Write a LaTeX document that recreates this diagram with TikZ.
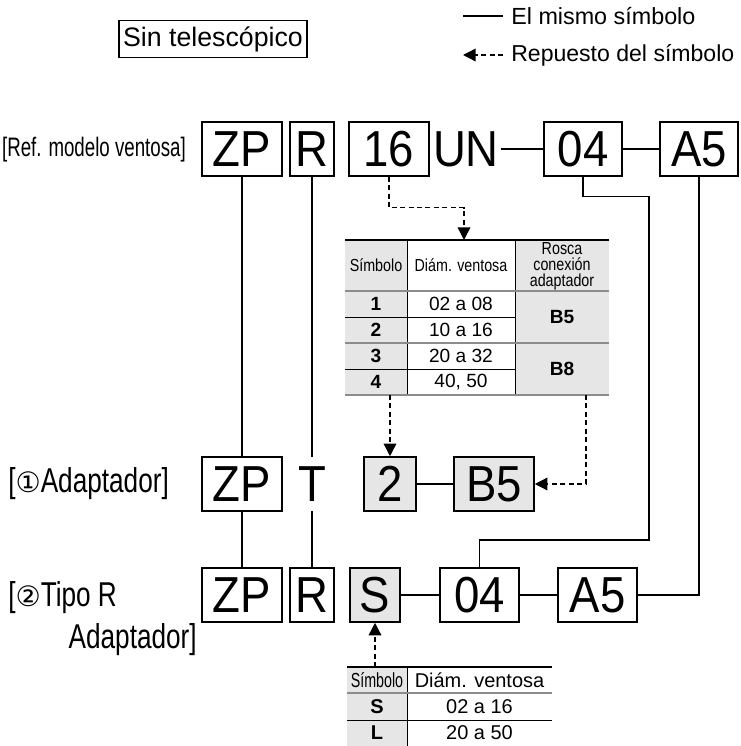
\documentclass[tikz,border=0pt]{standalone}
\usepackage{fontspec}
\setmainfont{Liberation Sans}
\newfontfamily\narrowfont{Liberation Sans}[FakeStretch=0.82]
\newfontfamily\slimfont{Liberation Sans}[FakeStretch=0.7]
\newfontfamily\rowfam{Liberation Sans}[FakeStretch=0.76]
\newfontfamily\boxfam{Liberation Sans}[FakeStretch=0.9]
\newfontfamily\symfont{DejaVu Sans}
\usetikzlibrary{positioning, arrows.meta, calc}
\definecolor{cellgray}{HTML}{E6E6E6}
\definecolor{rulegray}{HTML}{8C8C8C}
\newcommand{\codefont}{\fontsize{36}{36}\selectfont\boxfam}
\newcommand{\rowfont}{\fontsize{24.5}{24.5}\selectfont\rowfam}
\newcommand{\hdrfont}{\fontsize{12.4}{11.2}\selectfont\narrowfont}
\newcommand{\valfont}{\fontsize{13.6}{13.6}\selectfont}

\begin{document}
\begin{tikzpicture}[
    code/.style={draw, line width=1.1pt, minimum height=1.35cm, inner sep=0pt, font=\codefont},
    pick/.style={code, fill=cellgray},
    link/.style={line width=0.9pt},
    bar/.style={line width=2.1pt},
    repl/.style={line width=1pt, dash pattern=on 3.5pt off 2.5pt,
                 -{Triangle[length=9pt,width=9pt]}},
    hdr/.style={font=\hdrfont, align=center, inner sep=0pt},
    val/.style={font=\valfont, inner sep=0pt}
  ]
    \useasboundingbox (0,0) rectangle (18.5,-18.65);

    % title and legend
    \node[draw, line width=0.8pt, minimum width=4.7cm, minimum height=0.925cm,
          inner sep=0pt, font=\fontsize{19}{19}\selectfont] (nosc) at (5.325,-0.975) {Sin telescópico};
    \coordinate (lgA) at (11.575,-0.4);
    \coordinate (lgB) at (12.575,-1.375);
    \coordinate (lgBt) at (11.575,-1.375);
    \node[anchor=west, inner xsep=0.2cm, font=\fontsize{16.6}{16.6}\selectfont] (lgsame) at (12.575,-0.4) {El mismo símbolo};
    \node[anchor=west, inner xsep=0.2cm, font=\fontsize{16.4}{16.4}\selectfont] (lgrepl) at (12.575,-1.375) {Repuesto del símbolo};
    \draw[link] (lgA) -- (lgsame.west);
    \draw[repl] (lgB) -- (lgBt);

    % row labels
    \node[anchor=east, inner sep=0pt, font=\fontsize{19}{19}\selectfont\slimfont] (refl) at (4.65,-3.75) {[Ref. modelo ventosa]};
    \node[anchor=west, inner sep=0pt, font=\rowfont] (adl) at (0.2,-12.1) {[{\symfont\fontsize{20}{20}\selectfont ①}Adaptador]};
    \node[anchor=west, inner sep=0pt, font=\rowfont] (tipl) at (0.2,-14.95) {[{\symfont\fontsize{20}{20}\selectfont ②}Tipo R};
    \node[anchor=east, inner sep=0pt, font=\rowfont] (tipm) at (4.925,-16.0) {Adaptador]};

    % suction cup model
    \node[code, minimum width=2.0cm] (zpa) at (6.05,-3.725) {ZP};
    \node[code, minimum width=1.1cm] (ra) at (7.8,-3.725) {R};
    \node[code, minimum width=2.0cm] (sza) at (9.725,-3.725) {16};
    \node[font=\codefont, inner sep=1pt] (una) at (11.65,-3.725) {UN};
    \node[code, minimum width=1.95cm] (o4a) at (14.575,-3.725) {04};
    \node[code, minimum width=1.95cm] (a5a) at (17.475,-3.725) {A5};
    \draw[bar] (una) -- (o4a);
    \draw[bar] (o4a) -- (a5a);

    % adapter
    \node[code, minimum width=2.0cm] (zpb) at (6.05,-12.1) {ZP};
    \node[font=\codefont, minimum height=1.35cm, inner sep=0pt] (tb) at (7.8,-12.1) {T};
    \node[pick, minimum width=1.3cm] (szb) at (9.75,-12.1) {2};
    \node[pick, minimum width=2.0cm] (b5b) at (12.35,-12.1) {B5};
    \draw[bar] (szb) -- (b5b);

    % R type adapter
    \node[code, minimum width=2.0cm] (zpc) at (6.05,-14.875) {ZP};
    \node[code, minimum width=1.1cm] (rc) at (7.8,-14.875) {R};
    \node[pick, minimum width=1.25cm] (sc) at (9.375,-14.875) {S};
    \node[code, minimum width=1.975cm] (o4c) at (11.99,-14.875) {04};
    \node[code, minimum width=1.975cm] (a5c) at (14.94,-14.875) {A5};
    \draw[bar] (sc) -- (o4c);
    \draw[bar] (o4c) -- (a5c);

    % same symbol
    \draw[link] (zpa) -- (zpb);
    \draw[link] (zpb) -- (zpc);
    \draw[link] (ra) -- (tb);
    \draw[link] (tb) -- (rc);
    \coordinate (bendR) at (16.225,-13.5);
    \draw[link] (o4a.south) -- ++(0,-0.5) -| (bendR) -| (o4c.north);
    \draw[link] (a5a.south) |- (a5c.east);

    % size table
    \fill[cellgray] (8.625,-6.0) rectangle (10.175,-9.875);
    \fill[cellgray] (12.875,-6.0) rectangle (15.225,-9.875);
    \draw[line width=0.6pt] (10.175,-6.0) -- (10.175,-9.875) (12.875,-6.0) -- (12.875,-9.875);
    \draw[line width=0.6pt] (8.625,-7.925) -- (12.875,-7.925) (8.625,-9.225) -- (12.875,-9.225);
    \draw[rulegray, line width=1.3pt] (8.625,-7.275) -- (15.225,-7.275)
          (8.625,-8.575) -- (15.225,-8.575) (8.625,-9.875) -- (15.225,-9.875);
    \draw[line width=1.4pt] (8.625,-6.0) -- (15.225,-6.0);
    \node[hdr] (hsym) at (9.4,-6.6375) {Símbolo};
    \node[hdr] (hdia) at (11.525,-6.6375) {Diám. ventosa};
    \node[hdr] (hros) at (14.05,-6.66) {Rosca\\conexión\\adaptador};
    \foreach \sym/\dia [count=\i] in {1/02 a 08, 2/10 a 16, 3/20 a 32, 4/{40, 50}} {
      \node[val, font=\valfont\bfseries] (sym\i) at (9.4,{-6.95-0.65*\i}) {\sym};
      \node[val] (dia\i) at (11.525,{-6.95-0.65*\i}) {\dia};
    }
    \node[val, font=\valfont\bfseries] (thb5) at (14.05,-7.925) {B5};
    \node[val, font=\valfont\bfseries] (thb8) at (14.05,-9.225) {B8};

    % body table
    \fill[cellgray] (8.675,-16.675) rectangle (10.175,-18.65);
    \draw[line width=0.6pt] (10.175,-16.675) -- (10.175,-18.65);
    \draw[line width=0.6pt] (8.675,-18.0) -- (13.8,-18.0);
    \draw[rulegray, line width=1.3pt] (8.675,-17.325) -- (13.8,-17.325);
    \draw[line width=1.4pt] (8.675,-16.675) -- (13.8,-16.675);
    \node[val, font=\fontsize{14.5}{14.5}\selectfont\slimfont] (bsym) at (9.425,-17.0) {Símbolo};
    \node[val, font=\fontsize{14.2}{14.2}\selectfont] (bdia) at (11.9875,-17.0) {Diám. ventosa};
    \node[val, font=\fontsize{14.2}{14.2}\selectfont\bfseries] (bs) at (9.425,-17.6625) {S};
    \node[val, font=\fontsize{14.2}{14.2}\selectfont] (bsd) at (11.9875,-17.6625) {02 a 16};
    \node[val, font=\fontsize{14.2}{14.2}\selectfont\bfseries] (bl) at (9.425,-18.325) {L};
    \node[val, font=\fontsize{14.2}{14.2}\selectfont] (bld) at (11.9875,-18.325) {20 a 50};

    % replaced symbol
    \coordinate (tabin) at (11.6,-6.0);
    \coordinate (tabfoot) at (9.75,-9.875);
    \coordinate (tabfootR) at (14.65,-9.875);
    \coordinate (bodytop) at (9.375,-16.675);
    \draw[repl] (sza.south) -- ++(0,-0.775) -| (tabin);
    \draw[repl] (tabfoot) -- (szb.north);
    \draw[repl] (tabfootR) |- (b5b.east);
    \draw[repl] (bodytop) -- (sc.south);
\end{tikzpicture}
\end{document}
